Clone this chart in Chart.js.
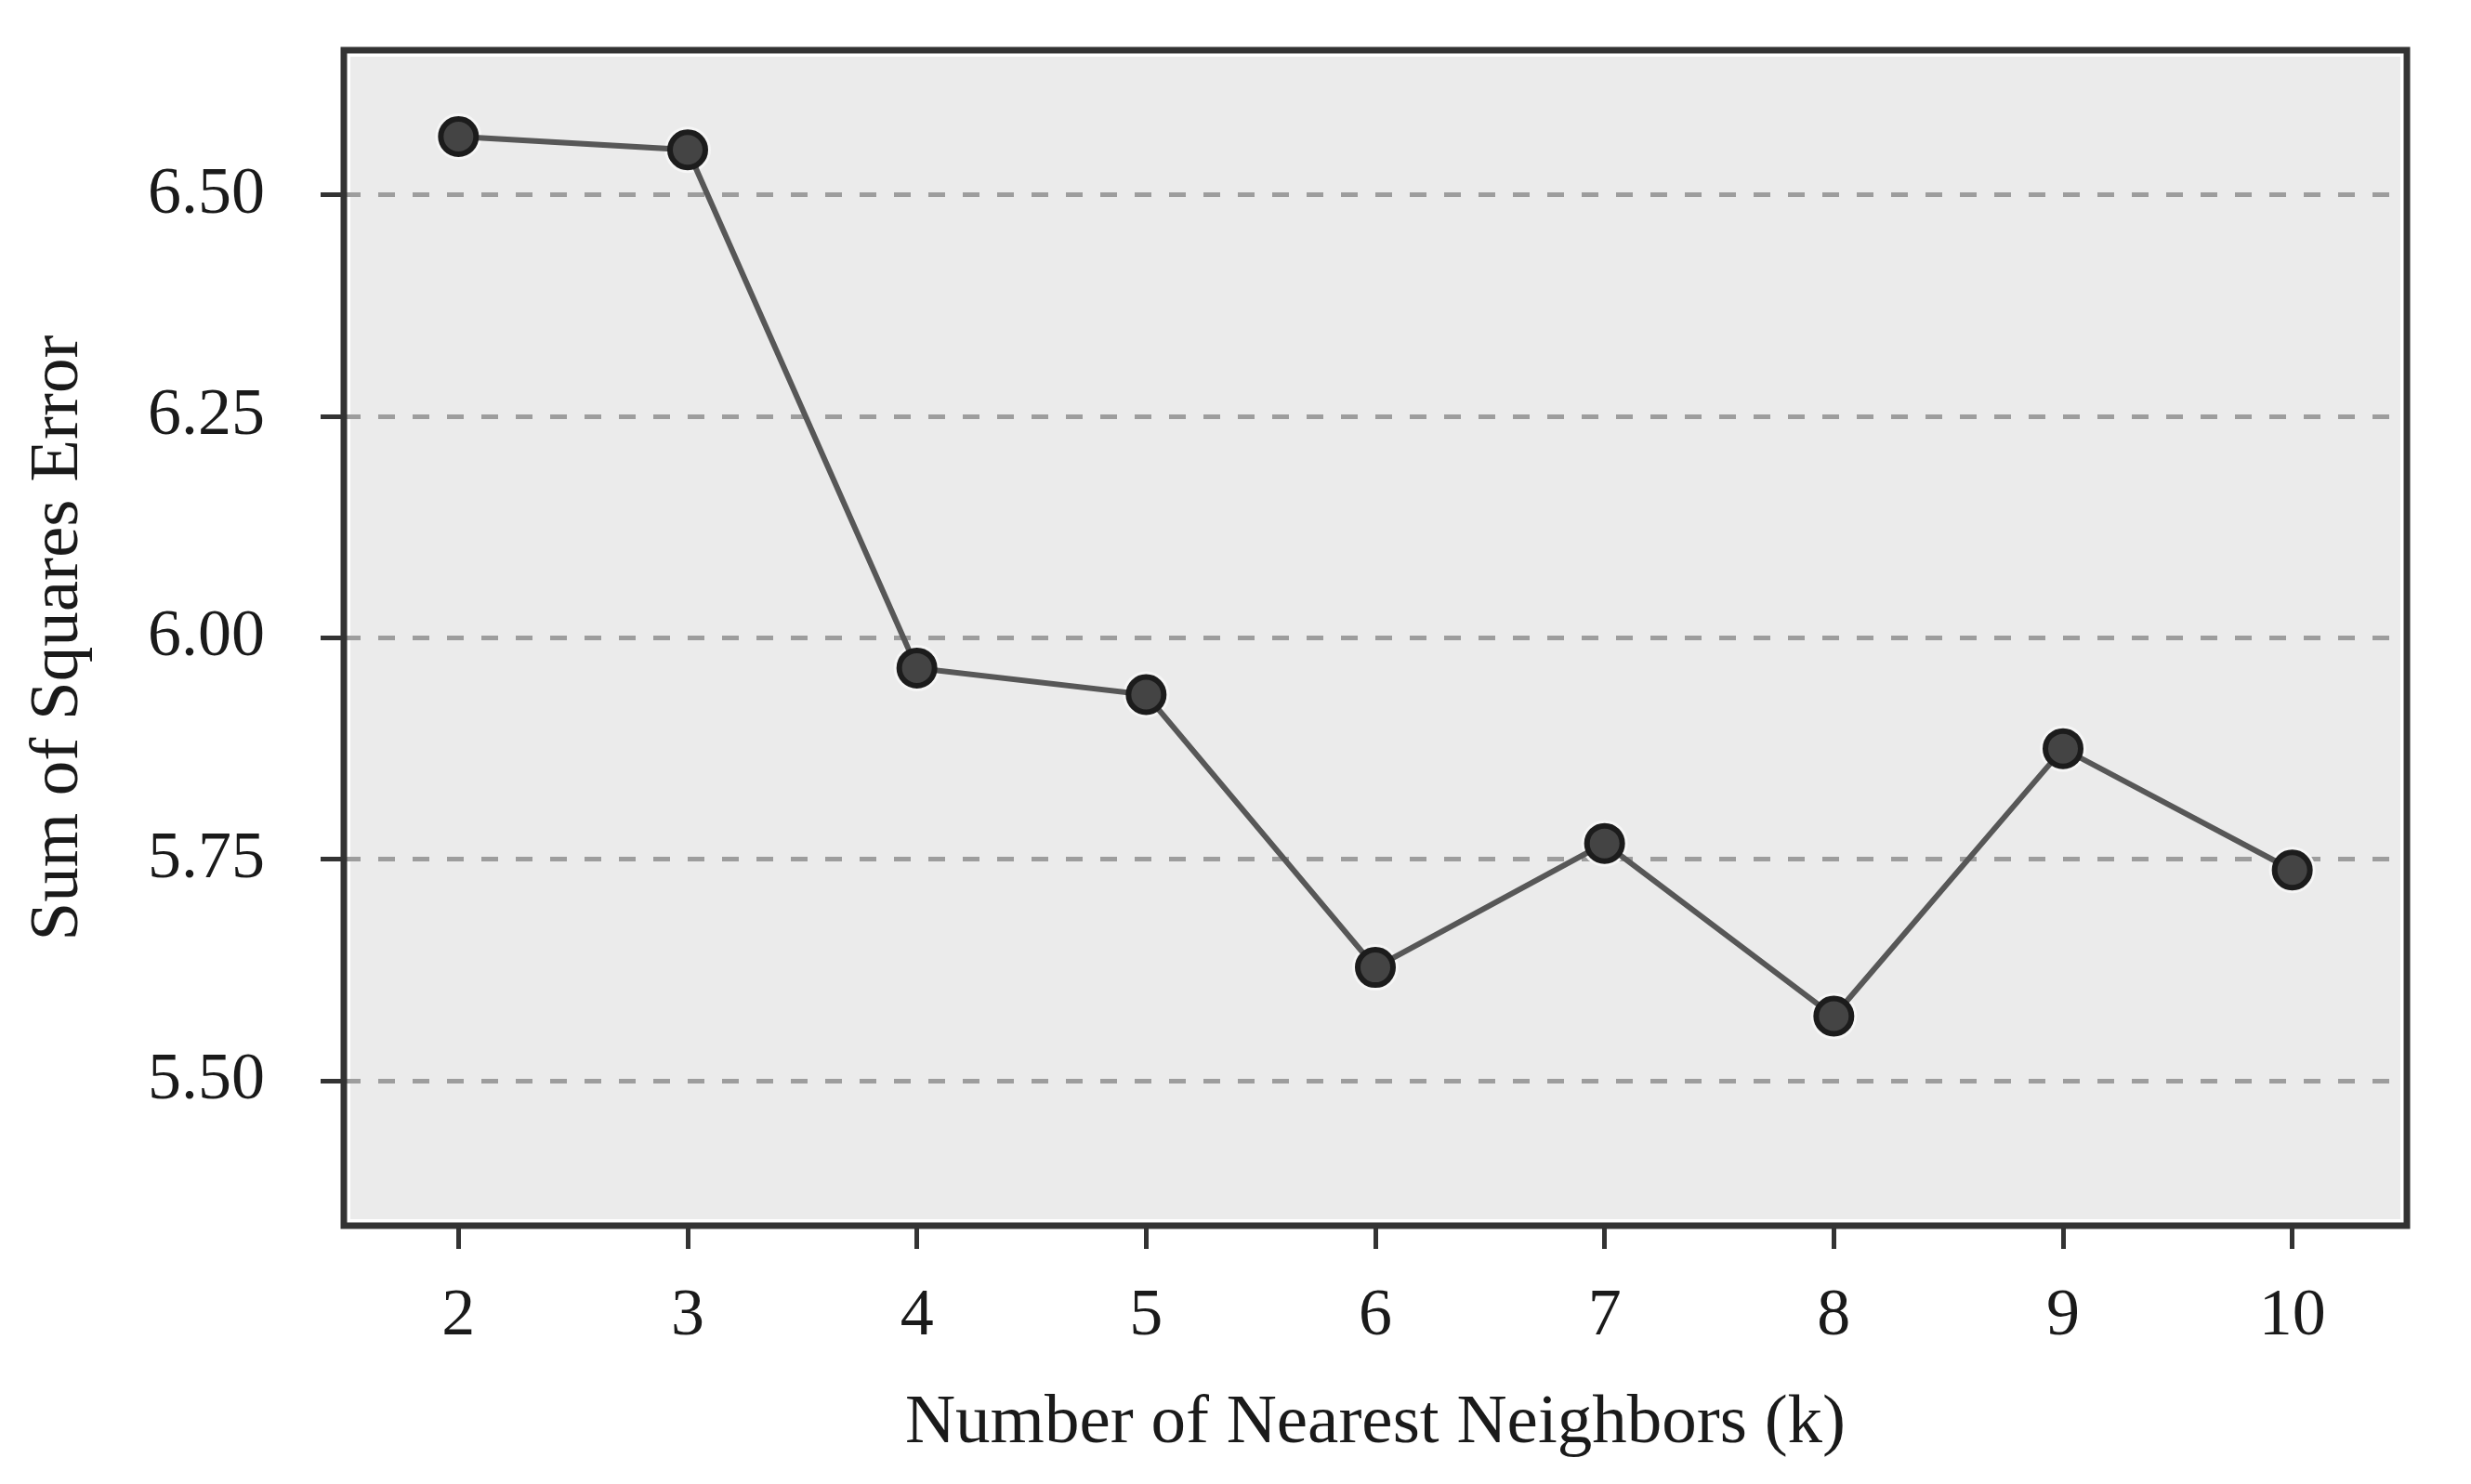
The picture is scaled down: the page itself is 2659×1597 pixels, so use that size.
<!DOCTYPE html>
<html>
<head>
<meta charset="utf-8">
<script src="https://cdn.jsdelivr.net/npm/chart.js@4/dist/chart.umd.min.js"></script>
<style>
  html, body { margin: 0; padding: 0; background: #ffffff; }
  #wrap { width: 2659px; height: 1597px; }
</style>
</head>
<body>
<div id="wrap"><canvas id="c" width="2659" height="1597"></canvas></div>
<script>
// ---- data ----
const kLabels = ['2', '3', '4', '5', '6', '7', '8', '9', '10'];
const sseValues = [6.566, 6.551, 5.966, 5.936, 5.628, 5.768, 5.573, 5.875, 5.738];
const yTickValues = [5.50, 5.75, 6.00, 6.25, 6.50];
const yMin = 5.3365;
const yMax = 6.6635;
const xTitle = 'Number of Nearest Neighbors (k)';
const yTitle = 'Sum of Squares Error';

const FONT = '"Liberation Serif", "Times New Roman", serif';

const framePlugin = {
  id: 'frame',
  beforeDraw(chart) {
    const {ctx, chartArea: a} = chart;
    ctx.save();
    ctx.fillStyle = '#ffffff';
    ctx.fillRect(0, 0, chart.width, chart.height);
    ctx.fillStyle = '#ebebeb';
    ctx.fillRect(a.left + 7, a.top + 7, a.right - a.left - 14, a.bottom - a.top - 14);
    ctx.restore();
  },
  beforeDatasetsDraw(chart) {
    const {ctx, chartArea: a} = chart;
    ctx.save();
    ctx.strokeStyle = '#333333';
    ctx.lineWidth = 7;
    ctx.strokeRect(a.left, a.top, a.right - a.left, a.bottom - a.top);
    ctx.restore();
  }
};

new Chart(document.getElementById('c'), {
  type: 'line',
  data: {
    labels: kLabels,
    datasets: [{
      data: sseValues,
      borderColor: '#575757',
      borderWidth: 6,
      tension: 0,
      pointRadius: 19,
      pointHoverRadius: 19,
      pointBorderWidth: 6,
      pointBackgroundColor: '#444444',
      pointBorderColor: '#1c1c1c',
      fill: false
    }, {
      // soft light halo around each marker
      data: sseValues,
      showLine: false,
      pointRadius: 25,
      pointHoverRadius: 25,
      pointBorderWidth: 0,
      pointBackgroundColor: '#f6f6f6',
      fill: false
    }]
  },
  options: {
    responsive: false,
    devicePixelRatio: 1,
    animation: false,
    layout: { autoPadding: false, padding: { top: 54, right: 69, left: 0, bottom: 0 } },
    plugins: {
      legend: { display: false },
      tooltip: { enabled: false },
      title: { display: false }
    },
    scales: {
      x: {
        type: 'category',
        offset: true,
        grid: {
          display: true,
          offset: false,
          drawOnChartArea: false,
          drawTicks: true,
          tickLength: 25,
          tickColor: '#333333',
          tickWidth: 5
        },
        border: { display: false },
        ticks: {
          color: '#1a1a1a',
          padding: 30,
          maxRotation: 0,
          font: { family: FONT, size: 72 }
        },
        title: {
          display: true,
          text: xTitle,
          color: '#1a1a1a',
          font: { family: FONT, size: 75 },
          padding: { top: 0, bottom: 20 }
        },
        afterFit(scale) {
          scale.height = 278;
          scale.paddingLeft = 0;
          scale.paddingRight = 0;
        }
      },
      y: {
        type: 'linear',
        min: yMin,
        max: yMax,
        afterBuildTicks(scale) { scale.ticks = yTickValues.map(v => ({ value: v })); },
        grid: {
          display: true,
          drawOnChartArea: true,
          drawTicks: true,
          color: '#9d9d9d',
          lineWidth: 5,
          tickLength: 25,
          tickColor: '#333333',
          tickWidth: 5
        },
        border: { display: false, dash: [18, 19] },
        ticks: {
          color: '#1a1a1a',
          padding: 60,
          font: { family: FONT, size: 72 },
          callback: (v) => Number(v).toFixed(2)
        },
        title: {
          display: true,
          text: yTitle,
          color: '#1a1a1a',
          font: { family: FONT, size: 75 },
          padding: { top: 18, bottom: 0 }
        },
        afterFit(scale) {
          scale.width = 370;
          scale.paddingTop = 0;
          scale.paddingBottom = 0;
        }
      }
    }
  },
  plugins: [framePlugin]
});
</script>
</body>
</html>
